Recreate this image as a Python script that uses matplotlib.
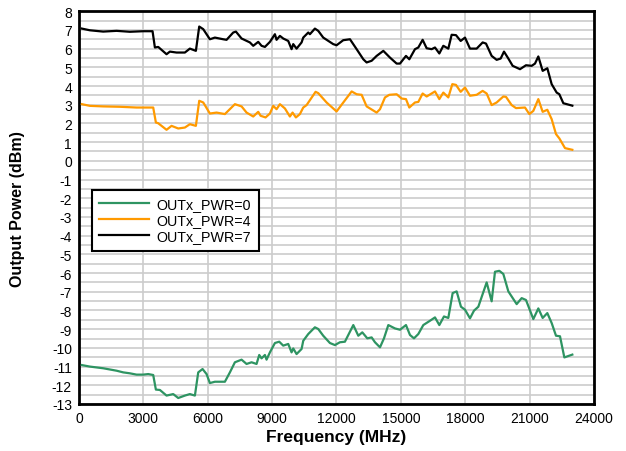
import numpy as np
import matplotlib
matplotlib.use('Agg')
import matplotlib.pyplot as plt
from matplotlib.ticker import MultipleLocator

plt.rcParams['font.family'] = ['Liberation Sans', 'DejaVu Sans']
plt.rcParams['axes.unicode_minus'] = False

# OUTx_PWR=7
freq_7 = [140, 512, 1134, 1755, 2376, 2997, 3432, 3541, 3696, 4084, 4240, 4550,
          4938, 5171, 5451, 5606, 5793, 6103, 6336, 6724, 6880, 7190, 7315,
          7579, 7967, 8122, 8355, 8510, 8666, 8899, 9132, 9209, 9365, 9520,
          9753, 9908, 9986, 10141, 10374, 10452, 10685, 10762, 10995, 11150,
          11383, 11849, 12005, 12315, 12629, 12939, 13250, 13405, 13638,
          13871, 14182, 14492, 14803, 14958, 15238, 15393, 15657, 15812,
          16014, 16201, 16434, 16589, 16791, 16977, 17210, 17365, 17567,
          17785, 17987, 18220, 18530, 18810, 18965, 19229, 19462, 19649,
          19804, 20006, 20207, 20549, 20828, 21093, 21248, 21403, 21605,
          21822, 22024, 22257, 22382, 22568, 22987]
pwr_7 = [7.07, 6.98, 6.91, 6.95, 6.90, 6.93, 6.93, 6.06, 6.09, 5.70, 5.84, 5.79,
         5.79, 6.00, 5.88, 7.18, 7.04, 6.50, 6.59, 6.50, 6.47, 6.86, 6.91,
         6.54, 6.33, 6.15, 6.36, 6.15, 6.09, 6.36, 6.77, 6.47, 6.68, 6.54,
         6.41, 5.97, 6.24, 6.00, 6.33, 6.59, 6.86, 6.77, 7.07, 6.95,
         6.59, 6.24, 6.18, 6.45, 6.50, 5.97, 5.43, 5.26, 5.35,
         5.61, 5.88, 5.52, 5.20, 5.20, 5.61, 5.43, 5.97, 6.06,
         6.47, 6.02, 5.97, 6.06, 5.74, 6.15, 6.00, 6.74, 6.72,
         6.41, 6.59, 6.00, 6.00, 6.33, 6.27, 5.61, 5.40, 5.47,
         5.84, 5.47, 5.08, 4.90, 5.11, 5.08, 5.20, 5.58, 4.81,
         4.95, 4.10, 3.65, 3.56, 3.08, 2.95]

# OUTx_PWR=4
freq_4 = [140, 512, 1134, 1910, 2687, 3463, 3587, 3696, 4084, 4317, 4628, 4938,
          5171, 5451, 5606, 5793, 6103, 6414, 6802, 7268, 7579, 7812, 8122,
          8355, 8464, 8697, 8899, 9054, 9209, 9365, 9598, 9830, 9955, 10110,
          10296, 10452, 10607, 11026, 11150, 11539, 12005, 12318, 12707,
          12939, 13172, 13405, 13871, 14027, 14260, 14461, 14803, 15036,
          15238, 15393, 15657, 15812, 16014, 16201, 16589, 16791, 16977,
          17210, 17397, 17567, 17785, 17987, 18220, 18530, 18810, 18996,
          19229, 19462, 19773, 19897, 20161, 20363, 20782, 20984, 21170,
          21403, 21605, 21822, 22024, 22226, 22382, 22646, 22987]
pwr_4 = [3.03, 2.94, 2.91, 2.89, 2.85, 2.85, 2.05, 2.01, 1.66, 1.87, 1.73, 1.78,
         1.96, 1.87, 3.21, 3.12, 2.53, 2.58, 2.50, 3.03, 2.91, 2.58, 2.37,
         2.62, 2.41, 2.32, 2.53, 2.94, 2.76, 3.03, 2.80, 2.37, 2.58, 2.32,
         2.50, 2.85, 2.98, 3.69, 3.62, 3.12, 2.64, 3.12, 3.71,
         3.56, 3.53, 2.91, 2.58, 2.76, 3.39, 3.53, 3.56, 3.33,
         3.30, 2.85, 3.12, 3.15, 3.60, 3.44, 3.71, 3.30, 3.65,
         3.39, 4.10, 4.06, 3.69, 3.92, 3.48, 3.53, 3.74, 3.60,
         2.98, 3.12, 3.44, 3.42, 2.98, 2.82, 2.85, 2.50, 2.67,
         3.30, 2.62, 2.73, 2.23, 1.43, 1.20, 0.68, 0.59]

# OUTx_PWR=0
freq_0 = [140, 512, 1134, 1755, 2066, 2376, 2687, 2997, 3230, 3463, 3587, 3774,
          4084, 4395, 4628, 4938, 5171, 5405, 5560, 5762, 5948, 6103, 6336,
          6802, 7035, 7268, 7579, 7812, 8044, 8277, 8402, 8510, 8666, 8743,
          8899, 9132, 9333, 9520, 9753, 9908, 9986, 10141, 10374, 10452,
          10685, 10762, 10995, 11150, 11383, 11694, 11927, 12160, 12393,
          12784, 13017, 13203, 13436, 13638, 13794, 14027, 14213, 14415,
          14725, 14958, 15238, 15424, 15610, 15812, 16045, 16356, 16589,
          16791, 17008, 17210, 17412, 17598, 17800, 17987, 18220, 18406,
          18608, 18996, 19229, 19384, 19586, 19773, 20006, 20394, 20627,
          20828, 21170, 21403, 21605, 21822, 22024, 22226, 22413, 22615,
          22987]
pwr_0 = [-10.92, -11.00, -11.09, -11.22, -11.31, -11.36, -11.43, -11.43,
         -11.40, -11.45, -12.23, -12.25, -12.55, -12.47, -12.68, -12.55,
         -12.47, -12.55, -11.31, -11.13, -11.40, -11.88, -11.81, -11.81,
         -11.31, -10.77, -10.63, -10.86, -10.77, -10.86, -10.38, -10.56,
         -10.38, -10.63, -10.24, -9.74, -9.67, -9.88, -9.79, -10.24, -10.03,
         -10.33, -10.06, -9.62, -9.26, -9.17, -8.90, -8.99, -9.35, -9.74,
         -9.85, -9.70, -9.67, -8.78, -9.35, -9.17, -9.49, -9.44, -9.70,
         -9.97, -9.49, -8.78, -8.96, -9.03, -8.78, -9.31, -9.49, -9.26,
         -8.78, -8.55, -8.37, -8.78, -8.32, -8.40, -7.07, -6.98, -7.80,
         -7.96, -8.42, -8.01, -7.80, -6.50, -7.51, -5.93, -5.88, -6.05,
         -6.98, -7.66, -7.34, -7.44, -8.46, -7.89, -8.40, -8.14, -8.67,
         -9.35, -9.38, -10.51, -10.36]

labels = ['OUTx_PWR=0', 'OUTx_PWR=4', 'OUTx_PWR=7']
colors = ['#2e9462', '#ff9a00', '#000000']

fig = plt.figure(figsize=(6.26, 4.52), dpi=100)
ax = fig.add_axes([0.126, 0.104, 0.823, 0.869])

for f, p, lab, c in zip([freq_0, freq_4, freq_7], [pwr_0, pwr_4, pwr_7],
                        labels, colors):
    ax.plot(f, p, color=c, lw=1.6, label=lab, zorder=3)

ax.set_xlim(0, 24000)
ax.set_ylim(-13, 8)
ax.xaxis.set_major_locator(MultipleLocator(3000))
ax.yaxis.set_major_locator(MultipleLocator(1))
ax.yaxis.set_minor_locator(MultipleLocator(0.5))
ax.grid(True, which='both', axis='y', color='#cccccc', lw=1.2)
ax.grid(True, which='major', axis='x', color='#cccccc', lw=1.2)
ax.set_axisbelow(True)
ax.tick_params(which='both', length=0, labelsize=10, pad=5)
for s in ax.spines.values():
    s.set_linewidth(2)

ax.set_xlabel('Frequency (MHz)', fontsize=12.5, fontweight='bold', labelpad=3)
ax.set_ylabel('Output Power (dBm)', fontsize=11.5, fontweight='bold',
              labelpad=19)

leg = ax.legend(loc='upper left', bbox_to_anchor=(0.025, 0.545),
                borderaxespad=0, fancybox=False, framealpha=1,
                edgecolor='black', fontsize=10.3, handlelength=3.5,
                handletextpad=0.55, labelspacing=0.15, borderpad=0.5)
leg.get_frame().set_linewidth(1.5)
for line in leg.get_lines():
    line.set_linewidth(1.6)

plt.savefig('out.png', dpi=100)
